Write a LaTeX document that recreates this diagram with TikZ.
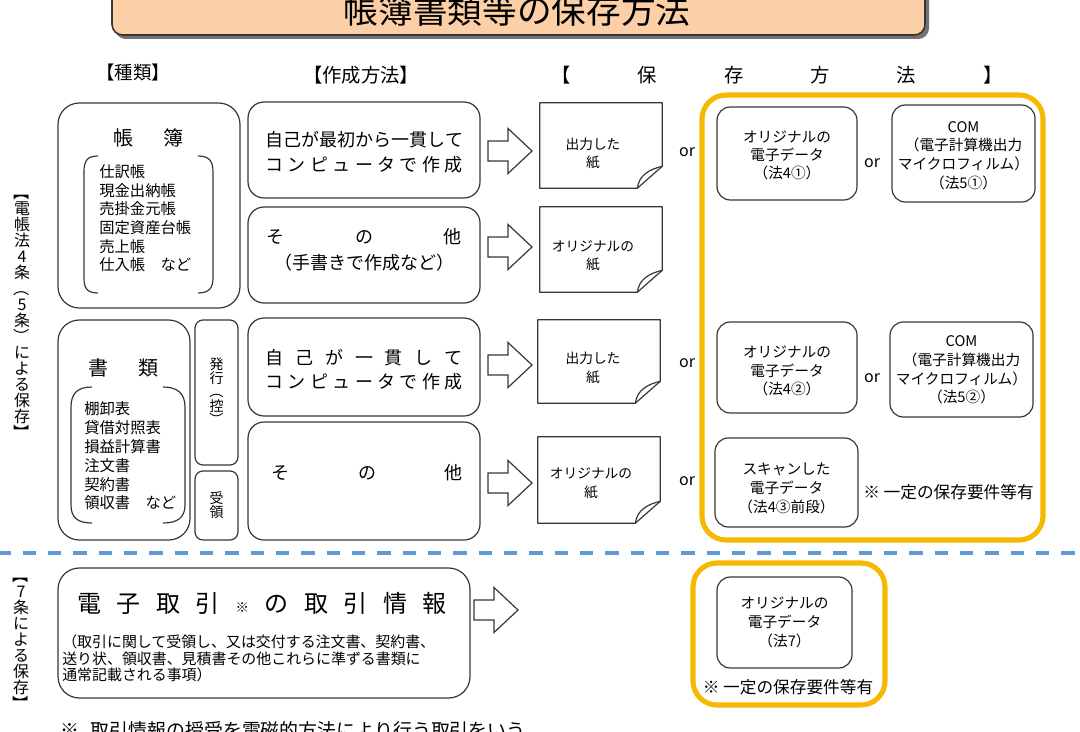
\documentclass[tikz,border=0pt]{standalone}
\usepackage{fontspec}
\setmainfont{Noto Sans CJK JP}
\usetikzlibrary{calc}
\definecolor{lc}{RGB}{55,55,55}
\definecolor{yel}{RGB}{246,184,0}
\definecolor{peach}{RGB}{252,207,166}
\definecolor{dashblue}{RGB}{95,155,212}
\newlength\pxl \setlength\pxl{0.75pt}
\newcommand\fz[2]{\fontsize{#1}{#2}\selectfont}
\newcommand\vrot[1]{\rotatebox[origin=c]{-90}{#1}}
\newcommand\sprEnd{SPREND}
\newcommand\spreadto[2]{\makebox[#1][s]{\sprA#2\sprEnd}}
\def\sprA#1{#1\sprB}
\def\sprB#1{\ifx\sprEnd#1\else\hfill#1\expandafter\sprB\fi}
\newcommand\kome{{\fz{10}{10}※}}
\tikzset{
  wh/.style 2 args={minimum width=#1*0.75pt, minimum height=#2*0.75pt},
  pl/.style={draw=lc, line width=0.9pt},
  rbox/.style={draw=lc, line width=0.9pt, rounded corners=#1, inner sep=0pt},
  rbox/.default=12pt,
  ybox/.style={draw=yel, line width=3.8pt, rounded corners=18pt, inner sep=0pt},
  paper/.style={inner sep=0pt},
  txt/.style={inner sep=0pt, align=center},
  orl/.style={inner sep=0pt, font=\fz{12}{12}},
}
\newcommand\barrow[2]{% #1 left x, #2 center y
  \draw[pl, fill=white] (#1,#2-10) -- (#1+20,#2-10) -- (#1+20,#2-22.5) -- (#1+44,#2) -- (#1+20,#2+22.5) -- (#1+20,#2+10) -- (#1,#2+10) -- cycle;}
\newcommand\paperdraw[1]{%
  \draw[pl, line join=round] (#1.north west) -- (#1.north east) -- ([yshift=22\pxl]#1.south east)
     -- ([xshift=-25\pxl]#1.south east) -- (#1.south west) -- cycle;
  \draw[pl, line join=round] ([xshift=-25\pxl]#1.south east) .. controls +(2,-14) and +(-12,3) .. ([yshift=22\pxl]#1.south east);}
\begin{document}
\begin{tikzpicture}[x=0.75pt,y=-0.75pt]
\useasboundingbox (0,0) rectangle (1080,731);
\clip (0,0) rectangle (1080,731);
% title
\fill[black!55, rounded corners=8pt] (115,-30) rectangle (929,39);
\node[draw=lc, line width=1.2pt, fill=peach, rounded corners=8pt, wh={813}{75}, inner sep=0] (title) at (518.5,-2.5) {};
\node[font=\fz{26}{26}, inner sep=0] (titletext) at (517,10) {帳簿書類等の保存方法};
% headers
\node[font=\fz{13.8}{14}, inner sep=0] (h1) at (133,73) {【種類】};
\node[font=\fz{14.5}{15}, inner sep=0] (h2) at (361,75) {【作成方法】};
\node[font=\fz{14.5}{15}, inner sep=0] (h3) at (777,75) {\spreadto{451\pxl}{【保存方法】}};
% vertical labels
\node[txt, font=\fz{12}{12}] (v1) at (22,312) {\vrot{【}\\電\\帳\\法\\4\\条\\\vrot{（}\\5\\条\\\vrot{）}\\に\\よ\\る\\保\\存\\\vrot{】}};
\node[txt, font=\fz{12}{12}] (v2) at (21,639.5) {\vrot{【}\\7\\条\\に\\よ\\る\\保\\存\\\vrot{】}};
% left boxes
\node[rbox=16pt, wh={182}{205}] (L1) at (149,205.5) {};
\node[font=\fz{15}{15}, inner sep=0] (L1t) at (148,138) {\spreadto{70\pxl}{帳簿}};
\draw[pl] (98,156) .. controls (87,156) and (84,161) .. (84,172) -- (84,278) .. controls (84,288) and (87,293) .. (98,293);
\draw[pl] (198,156) .. controls (209,156) and (213,161) .. (213,172) -- (213,278) .. controls (213,288) and (209,293) .. (198,293);
\node[anchor=west, inner sep=0, align=left, font=\fz{11.5}{14}] (L1l) at (99,218.5) {仕訳帳\\現金出納帳\\売掛金元帳\\固定資産台帳\\売上帳\\仕入帳\hspace{1em}など};
\node[rbox=16pt, wh={132}{220}] (L2) at (124,430) {};
\node[font=\fz{15}{15}, inner sep=0] (L2t) at (123,368) {\spreadto{70\pxl}{書類}};
\draw[pl] (92,387) .. controls (78,387) and (71,393) .. (71,407) -- (71,505) .. controls (71,518) and (78,523) .. (92,523);
\draw[pl] (163,387) .. controls (177,387) and (185,393) .. (185,407) -- (185,505) .. controls (185,518) and (177,523) .. (163,523);
\node[anchor=west, inner sep=0, align=left, font=\fz{11.5}{14.1}] (L2l) at (84,456) {棚卸表\\貸借対照表\\損益計算書\\注文書\\契約書\\領収書\hspace{1em}など};
\node[rbox=6pt, wh={43}{145}] (S1) at (216.5,392.5) {};
\node[txt, font=\fz{10.5}{10.5}] (S1t) at (216.5,392) {発\\行\\\vrot{（}\\控\\\vrot{）}};
\node[rbox=6pt, wh={43}{69}] (S2) at (216.5,505.5) {};
\node[txt, font=\fz{10.5}{10.5}] (S2t) at (216.5,505) {受\\領};
% middle boxes
\node[rbox=12pt, wh={232}{96}] (M1) at (364,150) {};
\node[txt, font=\fz{13.5}{18.75}] (M1t) at (364,152.5) {\spreadto{197\pxl}{自己が最初から一貫して}\\\spreadto{197\pxl}{コンピュータで作成}};
\node[rbox=12pt, wh={232}{96}] (M2) at (364,255) {};
\node[txt, font=\fz{13.5}{19.5}] (M2t) at (364,250) {\spreadto{195\pxl}{その他}\\（手書きで作成など）};
\node[rbox=12pt, wh={232}{98}] (M3) at (364,367) {};
\node[txt, font=\fz{13.5}{18}] (M3t) at (364,370) {\spreadto{197\pxl}{自己が一貫して}\\\spreadto{197\pxl}{コンピュータで作成}};
\node[rbox=12pt, wh={232}{118}] (M4) at (364,481) {};
\node[txt, font=\fz{13.5}{18}] (M4t) at (367,473) {\spreadto{191\pxl}{その他}};
% block arrows
\barrow{488}{151}
\barrow{488}{247}
\barrow{488}{365}
\barrow{488}{483}
\barrow{474}{610}
% papers
\node[paper, wh={122}{85}] (P1) at (601,145.5) {};
\paperdraw{P1}
\node[txt, font=\fz{10.3}{13.5}] (P1t) at (593,153.5) {出力した\\紙};
\node[paper, wh={122}{85}] (P2) at (601,249.5) {};
\paperdraw{P2}
\node[txt, font=\fz{10.3}{13.5}] (P2t) at (593,256) {オリジナルの\\紙};
\node[paper, wh={122}{83}] (P3) at (599,361.5) {};
\paperdraw{P3}
\node[txt, font=\fz{10.3}{14}] (P3t) at (593,368) {出力した\\紙};
\node[paper, wh={122}{86}] (P4) at (599,480) {};
\paperdraw{P4}
\node[txt, font=\fz{10.3}{14}] (P4t) at (591,483) {オリジナルの\\紙};
% or labels
\node[orl] (or1) at (687,152) {or};
\node[orl] (or2) at (687,363) {or};
\node[orl] (or3) at (687,481) {or};
\node[orl] (or4) at (872,163) {or};
\node[orl] (or5) at (872,378) {or};
% yellow group 1
\node[ybox, wh={341}{445}] (Y1) at (872.5,317.5) {};
\node[rbox=10pt, wh={140}{93}] (E1) at (787,153.5) {};
\node[txt, font=\fz{11}{13.5}] (E1t) at (787,155) {オリジナルの\\電子データ\\（法4①）};
\node[rbox=10pt, wh={143}{97}] (C1) at (963.5,153.5) {};
\node[txt, font=\fz{11}{14}] (C1t) at (963.5,155.5) {COM\\（電子計算機出力\\マイクロフィルム）\\（法5①）};
\node[rbox=10pt, wh={140}{91}] (E2) at (787,367.5) {};
\node[txt, font=\fz{11}{14}] (E2t) at (787,371) {オリジナルの\\電子データ\\（法4②）};
\node[rbox=10pt, wh={143}{95}] (C2) at (961.5,369.5) {};
\node[txt, font=\fz{11}{14}] (C2t) at (961.5,370) {COM\\（電子計算機出力\\マイクロフィルム）\\（法5②）};
\node[rbox=10pt, wh={143}{89}] (E3) at (786.5,482.5) {};
\node[txt, font=\fz{11}{14}] (E3t) at (786.5,488.5) {スキャンした\\電子データ\\（法4③前段）};
\node[inner sep=0, font=\fz{12.5}{13}] (n1) at (948.5,492) {※ 一定の保存要件等有};
% dashed separator
\draw[dashblue, line width=2.4pt, dash pattern=on 10pt off 9pt, dash phase=2pt] (0,553) -- (1080,553);
% bottom section
\node[rbox=16pt, wh={412}{130}] (B) at (264,633) {};
\node[inner sep=0, font=\fz{18}{18}] (Bt) at (262,603) {\spreadto{370\pxl}{電子取引\kome の取引情報}};
\node[anchor=west, inner sep=0, align=left, font=\fz{11.2}{12.5}] (Bl) at (62,658.5) {（取引に関して受領し、又は交付する注文書、契約書、\\送り状、領収書、見積書その他これらに準ずる書類に\\通常記載される事項）};
\node[ybox, wh={192}{142}] (Y2) at (789,634) {};
\node[rbox=10pt, wh={135}{91}] (E4) at (784.5,622.5) {};
\node[txt, font=\fz{11}{14.5}] (E4t) at (784.5,622.5) {オリジナルの\\電子データ\\（法7）};
\node[inner sep=0, font=\fz{12.5}{13}] (n2) at (788,687) {※ 一定の保存要件等有};
\node[anchor=west, inner sep=0, font=\fz{14.2}{15}] (fn) at (60,730) {※\hspace{0.6em}取引情報の授受を電磁的方法により行う取引をいう。};
\end{tikzpicture}
\end{document}
